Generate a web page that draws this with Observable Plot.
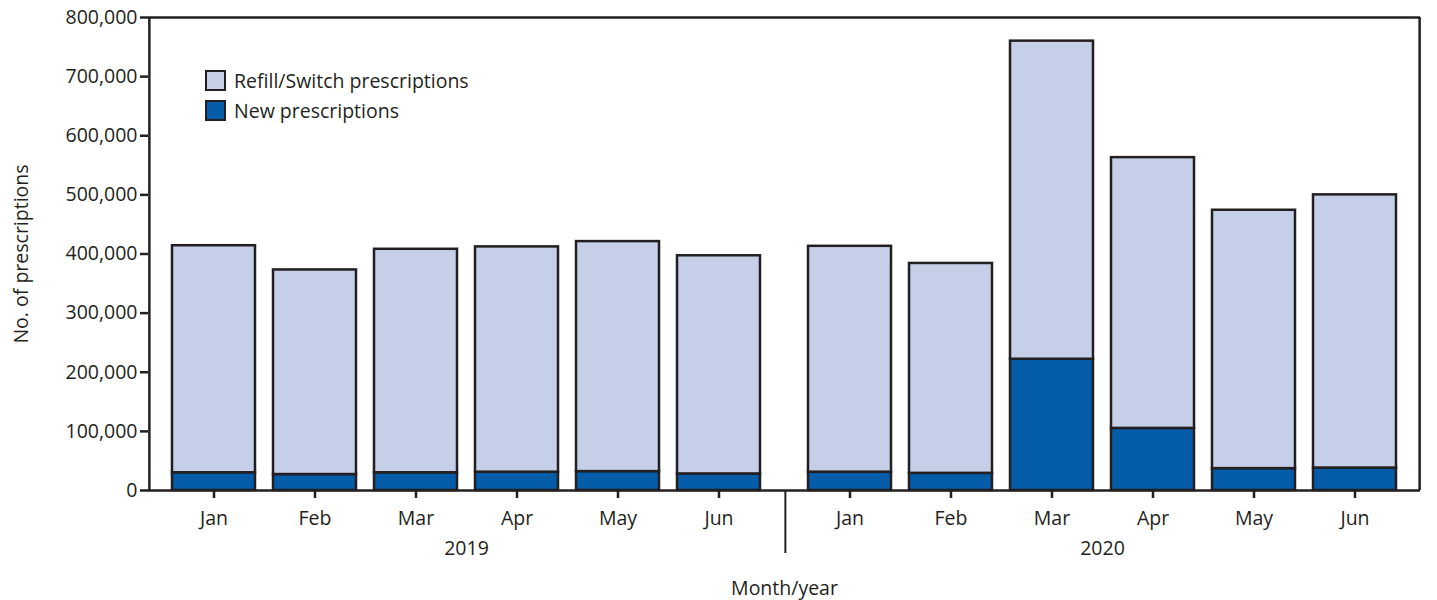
<!DOCTYPE html>
<html><head><meta charset="utf-8">
<script src="https://cdn.jsdelivr.net/npm/d3@7"></script>
<script src="https://cdn.jsdelivr.net/npm/@observablehq/plot@0.6"></script>
<style>
body{margin:0;background:#fff;font-family:"Open Sans",sans-serif;}
#wrap{position:relative;width:1437px;height:600px;}
#legend{position:absolute;left:205px;top:65px;font-size:19.5px;color:#231f20;}
.item{display:flex;align-items:center;height:30px;}
.sw{width:17px;height:17px;border:2px solid #231f20;margin-right:8px;box-sizing:content-box;}
</style></head><body><div id="wrap"><div id="legend"></div></div>
<script>
// ---- data ----
const months = ["Jan", "Feb", "Mar", "Apr", "May", "Jun"];
const years = ["2019", "2020"];
const seriesNames = ["Refill/Switch prescriptions", "New prescriptions"];
const newRx2019 = [30000, 27000, 30000, 31000, 32000, 28000];
const refillRx2019 = [384000, 346000, 378000, 381000, 389000, 369000];
const newRx2020 = [31000, 29000, 222000, 105000, 37000, 38000];
const refillRx2020 = [382000, 355000, 538000, 458000, 437000, 462000];
const yTicks = [0, 100000, 200000, 300000, 400000, 500000, 600000, 700000, 800000];
const colors = ["#c5cfe8", "#055ca9"];

// ---- table ----
const newRx = [newRx2019, newRx2020];
const refillRx = [refillRx2019, refillRx2020];
const data = [];
years.forEach((yr, j) => months.forEach((m, i) => {
  data.push({year: yr, month: m, type: seriesNames[1], value: newRx[j][i]});
  data.push({year: yr, month: m, type: seriesNames[0], value: refillRx[j][i]});
}));

// ---- layout ----
const W = 1437, H = 600, mL = 147, mR = 17, mT = 17, mB = 110;
const pI = 0.18, pO = 0.227;
const facetW = (W - mL - mR) / years.length;
const step = facetW / (months.length - pI + 2 * pO);
const edge = step * (1 - pI) / 2 + step * pO;
const ink = "#231f20";
const font = "'Open Sans', sans-serif";
const fs = 19.5;

const chart = Plot.plot({
  width: W, height: H,
  marginLeft: mL, marginRight: mR, marginTop: mT, marginBottom: mB,
  style: {fontFamily: font, fontSize: fs + "px", color: ink, background: "white"},
  fx: {domain: years, padding: 0},
  x: {domain: months, paddingInner: pI, paddingOuter: pO},
  y: {domain: [0, yTicks[yTicks.length - 1]]},
  color: {domain: seriesNames, range: colors},
  marks: [
    Plot.barY(data, {fx: "year", x: "month", y: "value", fill: "type", stroke: ink, strokeWidth: 2.5}),
    Plot.ruleY([yTicks[0]], {stroke: ink, strokeWidth: 2.5}),
    Plot.ruleY([yTicks[yTicks.length - 1]], {stroke: ink, strokeWidth: 2.5}),
    Plot.ruleX([{year: years[0], month: months[0]}], {fx: "year", x: "month", dx: -edge, stroke: ink, strokeWidth: 2.5}),
    Plot.ruleX([{year: years[1], month: months[months.length - 1]}], {fx: "year", x: "month", dx: edge, stroke: ink, strokeWidth: 2.5}),
    Plot.ruleX([{year: years[1], month: months[0]}], {fx: "year", x: "month", dx: -edge, stroke: ink, strokeWidth: 2, insetTop: H - mT - mB, insetBottom: -63}),
    Plot.axisY({ticks: yTicks, tickFormat: d3.format(","), tickSize: 8, tickPadding: 3, strokeWidth: 2.5,
      label: "No. of prescriptions", labelAnchor: "center", labelArrow: "none", labelOffset: 134, fontSize: fs}),
    Plot.axisX({tickSize: 8, tickPadding: 13, strokeWidth: 2.5, label: null, fontSize: fs}),
    Plot.axisFx({anchor: "bottom", tickSize: 0, tickPadding: 51, label: "Month/year", labelAnchor: "center", labelArrow: "none", labelOffset: 104, fontSize: fs})
  ]
});
document.getElementById("wrap").prepend(chart);

// ---- legend ----
const legend = document.getElementById("legend");
seriesNames.forEach((name, i) => {
  const item = document.createElement("div");
  item.className = "item";
  const sw = document.createElement("span");
  sw.className = "sw";
  sw.style.background = colors[i];
  item.appendChild(sw);
  item.appendChild(document.createTextNode(name));
  legend.appendChild(item);
});
</script>
</body></html>
